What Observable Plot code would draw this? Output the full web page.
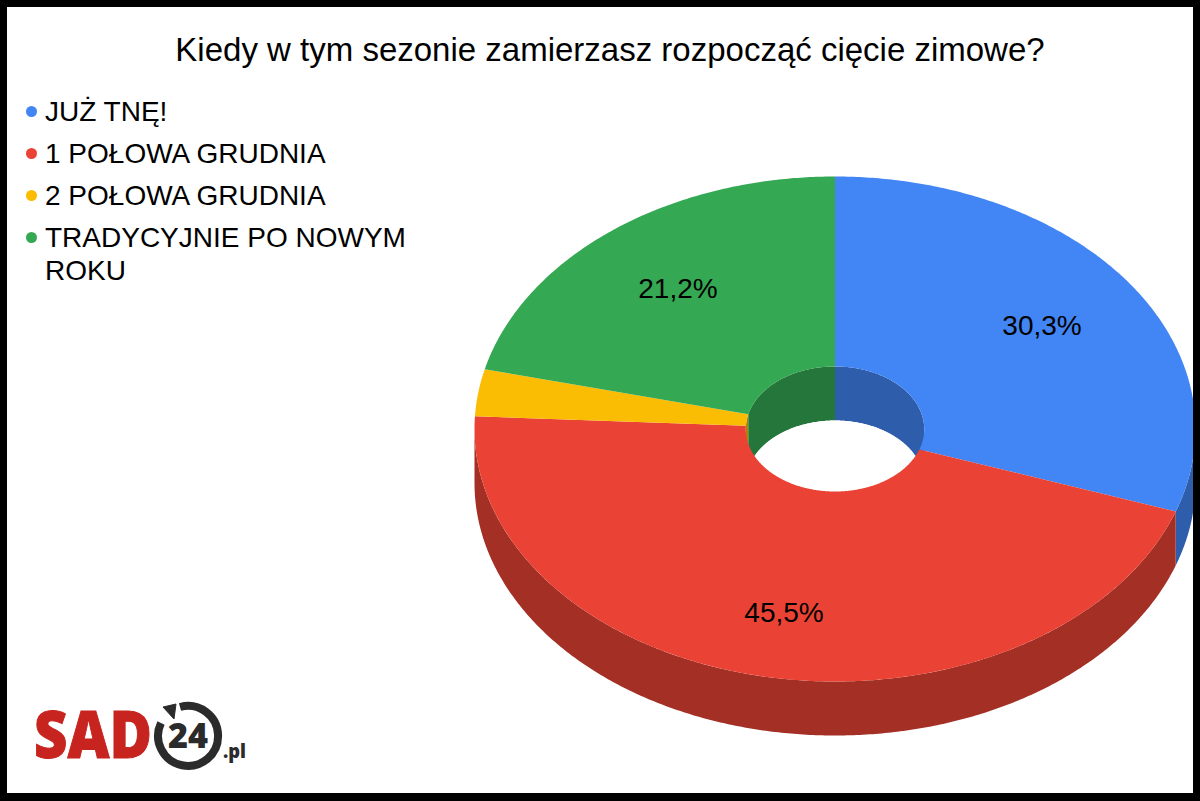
<!DOCTYPE html>
<html lang="pl">
<head>
<meta charset="utf-8">
<script src="https://cdn.jsdelivr.net/npm/d3@7"></script>
<script src="https://cdn.jsdelivr.net/npm/@observablehq/plot@0.6"></script>
<style>
  html,body{margin:0;padding:0;background:#fff;overflow:hidden;width:1200px;height:801px;}
  #stage{position:relative;width:1200px;height:801px;font-family:"Liberation Sans",Arial,sans-serif;color:#000;}
  #chart svg{display:block;}
  #frame{position:absolute;left:0;top:0;width:1200px;height:801px;box-sizing:border-box;border:solid #000;border-width:7px 7px 8px 7px;pointer-events:none;}
  #title{position:absolute;left:0;top:30px;width:1220px;text-align:center;font-size:33px;line-height:40px;white-space:nowrap;}
  .lg{position:absolute;left:45px;font-size:28px;line-height:33px;white-space:nowrap;}
  .sw{position:absolute;left:26px;width:11px;height:11px;border-radius:50%;}
  #logo{position:absolute;left:0;top:680px;}
</style>
</head>
<body>
<div id="stage">
  <div id="chart"></div>
  <div id="title"></div>
  <div id="legend"></div>
  <svg id="logo" width="270" height="121" viewBox="0 0 270 121">
    <text x="34" y="78" font-family="Open Sans" font-weight="800" font-size="65" fill="#c8241f" stroke="#c8241f" stroke-width="1" textLength="118" lengthAdjust="spacingAndGlyphs">SAD</text>
    <path d="M 180 27 A 30 30 0 1 1 161 43" fill="none" stroke="#2b2b2b" stroke-width="8"/>
    <path d="M 176 24 L 163 27 L 174 39 Z" fill="#2b2b2b" stroke="#2b2b2b" stroke-width="1"/>
    <text x="188" y="68" text-anchor="middle" font-family="Open Sans" font-weight="800" font-size="35" fill="#2b2b2b" textLength="40" lengthAdjust="spacingAndGlyphs">24</text>
    <text x="223" y="78" font-family="Open Sans" font-weight="800" font-size="20" fill="#2b2b2b" textLength="23" lengthAdjust="spacingAndGlyphs">.pl</text>
  </svg>
  <div id="frame"></div>
</div>
<script>
const chartTitle = "Kiedy w tym sezonie zamierzasz rozpocząć cięcie zimowe?";
const categories = ["JUŻ TNĘ!", "1 POŁOWA GRUDNIA", "2 POŁOWA GRUDNIA", "TRADYCYJNIE PO NOWYM ROKU"];
const legendLines = [["JUŻ TNĘ!"], ["1 POŁOWA GRUDNIA"], ["2 POŁOWA GRUDNIA"], ["TRADYCYJNIE PO NOWYM", "ROKU"]];
const shares = [30.3, 45.5, 3.0, 21.2];
const colors = ["#4285F4", "#EA4335", "#FBBC04", "#34A853"];
const labelled = [true, true, false, true];
const labelRadius = [0.705, 0.742, 0, 0.705];

const holeRadius = 0.2475;     // share of the outer radius
const depth = 0.2139;          // wall height, in units of the vertical radius
const shade = 0.7;

const total = d3.sum(shares);
const cum = d3.cumsum(shares);
const slices = shares.map((v, i) => ({
  i, v, cat: categories[i], color: colors[i],
  dark: (c => d3.rgb(c.r * shade, c.g * shade, c.b * shade).formatHex())(d3.rgb(colors[i])),
  a0: (cum[i] - v) / total * 360,
  a1: cum[i] / total * 360
}));

const rad = d => d * Math.PI / 180;
const P = (a, r, off = 0) => ({x: r * Math.sin(rad(a)), y: r * Math.cos(rad(a)) - off});
function arc(a0, a1, r, off = 0) {
  const n = Math.max(2, Math.ceil((a1 - a0) * 2));
  return d3.range(n + 1).map(k => P(a0 + (a1 - a0) * k / n, r, off));
}
const tag = (pts, key, fill) => pts.map(p => ({...p, key, fill}));

const outerWalls = [], innerWalls = [], ring = [];
for (const s of slices) {
  const a = Math.max(s.a0, 90), b = Math.min(s.a1, 270);
  if (a < b) outerWalls.push(...tag([...arc(a, b, 1), ...arc(a, b, 1, depth).reverse()], "o" + s.i, s.dark));
  for (const [lo, hi] of [[0, 90], [270, 360]]) {
    const c = Math.max(s.a0, lo), d = Math.min(s.a1, hi);
    if (c < d) innerWalls.push(...tag([...arc(c, d, holeRadius), ...arc(c, d, holeRadius, depth).reverse()], "i" + s.i + lo, s.dark));
  }
  ring.push(...tag([...arc(s.a0, s.a1, 1), ...arc(s.a0, s.a1, holeRadius).reverse()], "r" + s.i, s.color));
}
const opening = tag(arc(0, 360, holeRadius, depth), "hole", "#fff");

const labels = slices.filter(s => labelled[s.i]).map(s => ({
  ...P((s.a0 + s.a1) / 2, labelRadius[s.i]),
  text: s.v.toFixed(1).replace(".", ",") + "%"
}));

const poly = data => Plot.line(data, {x: "x", y: "y", z: "key", fill: "fill", stroke: "none", curve: "linear"});

const chart = Plot.plot({
  width: 1200, height: 801,
  marginTop: 0, marginRight: 0, marginBottom: 0, marginLeft: 0,
  style: {background: "#fff", overflow: "hidden"},
  x: {domain: [-1, 1], range: [474, 1195], axis: null},
  y: {domain: [-1, 1], range: [681, 176], axis: null},
  color: {type: "identity"},
  marks: [
    poly(outerWalls),
    poly(innerWalls),
    poly(opening),
    poly(ring),
    Plot.text(labels, {x: "x", y: "y", text: "text", fontSize: 28, fontFamily: "Liberation Sans, Arial, sans-serif", fill: "#000"})
  ]
});
document.getElementById("chart").append(chart);
document.getElementById("title").textContent = chartTitle;

const legend = document.getElementById("legend");
const rowTops = [95, 137, 179, 221];
legendLines.forEach((lines, i) => {
  const sw = document.createElement("div");
  sw.className = "sw";
  sw.style.top = (rowTops[i] + 11) + "px";
  sw.style.background = colors[i];
  legend.append(sw);
  const t = document.createElement("div");
  t.className = "lg";
  t.style.top = rowTops[i] + "px";
  t.innerHTML = lines.join("<br>");
  legend.append(t);
});
</script>
</body>
</html>
